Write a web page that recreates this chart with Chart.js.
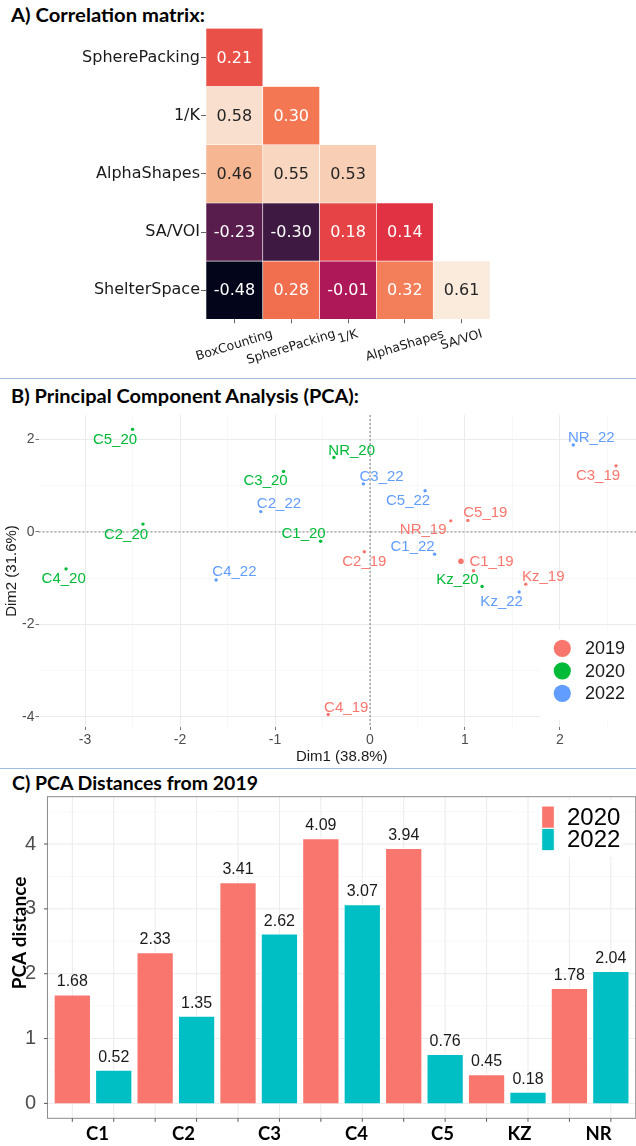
<!DOCTYPE html>
<html>
<head>
<meta charset="utf-8">
<title>Correlation matrix, PCA and PCA distances</title>
<script src="https://cdn.jsdelivr.net/npm/chart.js@4.4.1/dist/chart.umd.min.js"></script>
<style>
  html, body { margin: 0; padding: 0; background: #fff; }
  body { position: relative; width: 636px; height: 1146px; overflow: hidden; }
  .ttl { position: absolute; left: 11px; font-family: Lato, sans-serif; font-weight: bold; font-size: 19.5px;
         line-height: 20px; white-space: nowrap; transform-origin: 0 0; color: #000; }
  .sep { position: absolute; left: 0; width: 636px; height: 1px; background: #9fbbe0; }
  canvas { position: absolute; left: 0; }
</style>
</head>
<body>
<div class="ttl" style="top:4.5px" data-w="194">A) Correlation matrix:</div>
<canvas id="corr" width="636" height="376" style="top:0"></canvas>
<div class="sep" style="top:378px"></div>
<div class="ttl" style="top:385.5px" data-w="348">B) Principal Component Analysis (PCA):</div>
<canvas id="pca" width="660" height="368" style="top:400px"></canvas>
<div class="sep" style="top:768px"></div>
<div class="ttl" style="top:773px;left:12px" data-w="246">C) PCA Distances from 2019</div>
<canvas id="dist" width="660" height="376" style="top:770px"></canvas>

<script>
// ---- A) correlation matrix, lower triangle, one array per row
var corrCols = ['BoxCounting', 'SpherePacking', '1/K', 'AlphaShapes', 'SA/VOI'];
var corrRows = ['SpherePacking', '1/K', 'AlphaShapes', 'SA/VOI', 'ShelterSpace'];
var rowSpherePacking = [0.21];
var rowInvK = [0.58, 0.30];
var rowAlphaShapes = [0.46, 0.55, 0.53];
var rowSAVOI = [-0.23, -0.30, 0.18, 0.14];
var rowShelterSpace = [-0.48, 0.28, -0.01, 0.32, 0.61];

// ---- B) PCA individuals (site order as in sites)
var sites = ['C1', 'C2', 'C3', 'C4', 'C5', 'Kz', 'NR'];
var years = ['2019', '2020', '2022'];
var dim1_2019 = [1.09, -0.06, 2.59, -0.44, 1.03, 1.64, 0.85];
var dim2_2019 = [-0.84, -0.43, 1.43, -3.95, 0.25, -1.13, 0.24];
var dim1_2020 = [-0.52, -2.39, -0.91, -3.20, -2.50, 1.18, -0.38];
var dim2_2020 = [-0.20, 0.17, 1.31, -0.80, 2.22, -1.18, 1.61];
var dim1_2022 = [0.68, -1.15, -0.07, -1.62, 0.58, 1.57, 2.14];
var dim2_2022 = [-0.48, 0.44, 1.04, -1.04, 0.89, -1.30, 1.88];
var dim1Ticks = [-3, -2, -1, 0, 1, 2];
var dim2Ticks = [-4, -2, 0, 2];

// ---- C) PCA distances from 2019
var distSites = ['C1', 'C2', 'C3', 'C4', 'C5', 'KZ', 'NR'];
var dist2020 = [1.68, 2.33, 3.41, 4.09, 3.94, 0.45, 1.78];
var dist2022 = [0.52, 1.35, 2.62, 3.07, 0.76, 0.18, 2.04];
var distTicks = [0, 1, 2, 3, 4];

// label placement (px offsets of each text from its point, like ggrepel did)
var nudge2019 = [[18, -9], [0, 10], [-18, 10], [18, -7], [17.5, -8], [17.5, -7.3], [-27.6, 8.7]];
var nudge2020 = [[-17, -7.7], [-17, 10.3], [-18, 9.3], [-2.4, 10.3], [-17.5, 10.7], [-24.7, -6.7], [17.8, -7]];
var nudge2022 = [[-22, -7.7], [18.2, -7.7], [18.2, -7.3], [18.3, -7.7], [-17, 10.3], [-17.5, 9.7], [18, -7.3]];
var catNudge = [4.5, 7.5, 10.8, 14.8, 18.1, 12.2, 8.4];

var yearColors = ['#F8766D', '#00BA38', '#619CFF'];
var barColors = ['#F8766D', '#00BFC4'];

Chart.defaults.font.family = '"Liberation Sans", Arial, sans-serif';
Chart.defaults.animation = false;

function withMinors(majors, lo, hi) {
	var step = majors[1] - majors[0];
	var out = majors.slice();
	majors.forEach(function(m) { out.push(m - step / 2); });
	out.push(majors[majors.length - 1] + step / 2);
	return out.filter(function(v) { return v >= lo && v <= hi; }).sort(function(a, b) { return a - b; });
}

// seaborn "rocket" colour map
function rocketRGB(t) {
	var stops = ['#03051a', '#35193e', '#701f57', '#ad1759', '#e13342', '#f37651', '#f6b48f', '#faebdd'];
	t = Math.max(0, Math.min(1, t));
	var i = Math.min(Math.floor(t * 7), 6);
	var f = t * 7 - i;
	var a = hexRGB(stops[i]), b = hexRGB(stops[i + 1]);
	return a.map(function(c, k) { return Math.round(c + (b[k] - c) * f); });
}
function hexRGB(h) { return [1, 3, 5].map(function(i) { return parseInt(h.substr(i, 2), 16); }); }
function luminance(rgb) {
	var l = rgb.map(function(c) { c = c / 255; return c <= 0.03928 ? c / 12.92 : Math.pow((c + 0.055) / 1.055, 2.4); });
	return 0.2126 * l[0] + 0.7152 * l[1] + 0.0722 * l[2];
}

// ================= A) heatmap =================
var corrValues = [rowSpherePacking, rowInvK, rowAlphaShapes, rowSAVOI, rowShelterSpace];
var flat = [].concat.apply([], corrValues);
var vmin = Math.min.apply(null, flat), vmax = Math.max.apply(null, flat);
function cellRGB(v) { return rocketRGB((v - vmin) / (vmax - vmin)); }

var corrDatasets = corrValues.map(function(vals, r) {
	return {
		label: corrRows[r],
		data: corrCols.map(function(c, j) { return j < vals.length ? [r - 0.5, r + 0.5] : null; }),
		backgroundColor: corrCols.map(function(c, j) {
			return j < vals.length ? 'rgb(' + cellRGB(vals[j]).join(',') + ')' : 'rgba(0,0,0,0)';
		}),
		borderColor: '#ffffff',
		borderWidth: 0.6,
		borderSkipped: false,
		barPercentage: 1,
		categoryPercentage: 1,
		grouped: false
	};
});

var cellText = {
	id: 'cellText',
	afterDatasetsDraw: function(chart) {
		var ctx = chart.ctx, x = chart.scales.x, y = chart.scales.y;
		ctx.save();
		ctx.font = '16px "DejaVu Sans"';
		ctx.textAlign = 'center';
		ctx.textBaseline = 'middle';
		corrValues.forEach(function(vals, r) {
			vals.forEach(function(v, j) {
				ctx.fillStyle = luminance(cellRGB(v)) < 0.408 ? '#ffffff' : '#262626';
				ctx.fillText(v.toFixed(2), x.getPixelForValue(j), y.getPixelForValue(r) + 1);
			});
		});
		ctx.restore();
	}
};

var rotLabels = {
	id: 'rotLabels',
	afterDraw: function(chart) {
		var ctx = chart.ctx, area = chart.chartArea, x = chart.scales.x;
		var th = 17 * Math.PI / 180, fs = 12.5;
		ctx.save();
		ctx.beginPath();
		ctx.rect(0, area.bottom, area.right + 1, chart.height - area.bottom);
		ctx.clip();
		ctx.font = fs + 'px "DejaVu Sans"';
		ctx.fillStyle = '#1a1a1a';
		ctx.textAlign = 'center';
		ctx.textBaseline = 'middle';
		corrCols.forEach(function(lab, i) {
			var L = ctx.measureText(lab).width, h = fs * 1.1;
			var bh = L * Math.sin(th) + h * Math.cos(th);
			ctx.save();
			ctx.translate(x.getPixelForValue(i), area.bottom + 8 + bh / 2);
			ctx.rotate(-th);
			ctx.fillText(lab, 0, 0);
			ctx.restore();
		});
		ctx.restore();
	}
};

new Chart(document.getElementById('corr'), {
	type: 'bar',
	data: { labels: corrCols, datasets: corrDatasets },
	options: {
		responsive: false,
		devicePixelRatio: 1,
		layout: { padding: { left: 0, right: 146, top: 28.3, bottom: 36.7 } },
		plugins: { legend: { display: false }, tooltip: { enabled: false } },
		scales: {
			x: {
				type: 'category',
				offset: true,
				grid: { offset: false, drawOnChartArea: false, tickLength: 4, color: '#666' },
				border: { display: false },
				ticks: { display: false },
				afterFit: function(s) { s.height = 20; }
			},
			y: {
				type: 'linear',
				min: -0.5,
				max: 4.5,
				reverse: true,
				afterBuildTicks: function(s) { s.ticks = corrRows.map(function(_, i) { return { value: i }; }); },
				ticks: {
					autoSkip: false,
					padding: 1,
					color: '#1a1a1a',
					font: { family: '"DejaVu Sans"', size: 16 },
					callback: function(v) { return corrRows[v]; }
				},
				grid: { drawOnChartArea: false, tickLength: 5, color: '#666' },
				border: { display: false },
				afterFit: function(s) { s.width = 206; }
			}
		}
	},
	plugins: [cellText, rotLabels]
});

// ================= B) PCA =================
var dim1 = [dim1_2019, dim1_2020, dim1_2022];
var dim2 = [dim2_2019, dim2_2020, dim2_2022];
var nudges = [nudge2019, nudge2020, nudge2022];
function mean(a) { return a.reduce(function(s, v) { return s + v; }, 0) / a.length; }

var pcaDatasets = years.map(function(yr, k) {
	return {
		label: yr,
		data: sites.map(function(s, i) { return { x: dim1[k][i], y: dim2[k][i] }; }),
		backgroundColor: yearColors[k],
		borderWidth: 0,
		pointRadius: 1.7
	};
});
// group mean point of 2019
pcaDatasets.push({
	label: 'mean2019',
	data: [{ x: mean(dim1_2019), y: mean(dim2_2019) }],
	backgroundColor: yearColors[0],
	borderWidth: 0,
	pointRadius: 2.8
});

var xMinB = -3.49, xMaxB = 2.895, yMinB = -4.22, yMaxB = 2.53;

var pcaDecor = {
	id: 'pcaDecor',
	beforeDatasetsDraw: function(chart) {
		var ctx = chart.ctx, a = chart.chartArea;
		var px = chart.scales.x.getPixelForValue(0), py = chart.scales.y.getPixelForValue(0);
		ctx.save();
		ctx.strokeStyle = '#8a8a8a';
		ctx.lineWidth = 1.1;
		ctx.setLineDash([2, 2]);
		ctx.beginPath();
		ctx.moveTo(px, a.top); ctx.lineTo(px, a.bottom);
		ctx.moveTo(a.left, py); ctx.lineTo(a.right, py);
		ctx.stroke();
		ctx.restore();
	},
	afterDatasetsDraw: function(chart) {
		var ctx = chart.ctx;
		ctx.save();
		ctx.font = '15px "Liberation Sans"';
		ctx.textAlign = 'center';
		ctx.textBaseline = 'middle';
		years.forEach(function(yr, k) {
			var meta = chart.getDatasetMeta(k);
			ctx.fillStyle = yearColors[k];
			sites.forEach(function(s, i) {
				var el = meta.data[i];
				ctx.fillText(s + '_' + yr.slice(2), el.x + nudges[k][i][0], el.y + nudges[k][i][1]);
			});
		});
		ctx.restore();
	},
	afterDraw: function(chart) {
		var ctx = chart.ctx;
		ctx.save();
		ctx.fillStyle = '#ffffff';
		ctx.fillRect(540, 230, 120, 90);
		ctx.font = '18px "Liberation Sans"';
		ctx.textAlign = 'left';
		ctx.textBaseline = 'middle';
		years.forEach(function(yr, k) {
			var cy = 248.3 + k * 22.5;
			ctx.beginPath();
			ctx.arc(562.3, cy, 8.6, 0, 2 * Math.PI);
			ctx.fillStyle = yearColors[k];
			ctx.fill();
			ctx.fillStyle = '#1a1a1a';
			ctx.fillText(yr, 585, cy + 1);
		});
		ctx.restore();
	}
};

function gridOpts(majors) {
	function isMajor(c) { return c.tick && majors.indexOf(c.tick.value) >= 0; }
	return {
		color: function(c) { return isMajor(c) ? '#ebebeb' : '#f3f3f3'; },
		lineWidth: function(c) { return isMajor(c) ? 1 : 0.6; },
		tickLength: 3,
		tickColor: function(c) { return isMajor(c) ? '#777' : 'rgba(0,0,0,0)'; }
	};
}

new Chart(document.getElementById('pca'), {
	type: 'scatter',
	data: { datasets: pcaDatasets },
	options: {
		responsive: false,
		devicePixelRatio: 1,
		layout: { padding: { left: 0, right: 15, top: 15, bottom: 0 } },
		plugins: { legend: { display: false }, tooltip: { enabled: false } },
		scales: {
			x: {
				type: 'linear',
				min: xMinB,
				max: xMaxB,
				afterBuildTicks: function(s) {
					s.ticks = withMinors(dim1Ticks, xMinB, xMaxB).map(function(v) { return { value: v }; });
				},
				ticks: {
					autoSkip: false, maxRotation: 0, padding: 2, color: '#4d4d4d',
					font: { size: 14 },
					callback: function(v) { return dim1Ticks.indexOf(v) >= 0 ? String(v) : ''; }
				},
				grid: gridOpts(dim1Ticks),
				border: { display: false },
				title: { display: true, text: 'Dim1 (38.8%)', color: '#1a1a1a', font: { size: 15 }, padding: { top: 0, bottom: 2 } },
				afterFit: function(s) { s.height = 41; }
			},
			y: {
				type: 'linear',
				min: yMinB,
				max: yMaxB,
				afterBuildTicks: function(s) {
					s.ticks = withMinors(dim2Ticks, yMinB, yMaxB).map(function(v) { return { value: v }; });
				},
				ticks: {
					autoSkip: false, padding: 1, color: '#4d4d4d',
					font: { size: 14 },
					callback: function(v) { return dim2Ticks.indexOf(v) >= 0 ? String(v) : ''; }
				},
				grid: gridOpts(dim2Ticks),
				border: { display: false },
				title: { display: true, text: 'Dim2 (31.6%)', color: '#1a1a1a', font: { size: 15 }, padding: { top: 3, bottom: 0 } },
				afterFit: function(s) { s.width = 38.5; }
			}
		}
	},
	plugins: [pcaDecor]
});

// ================= C) PCA distances =================
var yMinC = -0.23, yMaxC = 4.73;

function hline(ctx, x1, y1, x2, y2) { ctx.beginPath(); ctx.moveTo(x1, y1); ctx.lineTo(x2, y2); ctx.stroke(); }

function panelBox(chart) {
	var m0 = chart.getDatasetMeta(0).data, m1 = chart.getDatasetMeta(1).data;
	var pitch = m1[0].x - m0[0].x;
	var a = chart.chartArea;
	return { L: a.left - 0.1 * pitch, R: a.right + 0.1 * pitch, T: a.top, B: a.bottom };
}

var distDecor = {
	id: 'distDecor',
	beforeDatasetsDraw: function(chart) {
		var ctx = chart.ctx, y = chart.scales.y, p = panelBox(chart);
		ctx.save();
		withMinors(distTicks, yMinC, yMaxC).forEach(function(v) {
			var major = distTicks.indexOf(v) >= 0;
			ctx.strokeStyle = major ? '#ebebeb' : '#f4f4f4';
			ctx.lineWidth = major ? 1 : 0.6;
			var py = y.getPixelForValue(v);
			hline(ctx, p.L, py, p.R, py);
		});
		ctx.strokeStyle = '#ebebeb';
		ctx.lineWidth = 1;
		chart.data.datasets.forEach(function(d, i) {
			chart.getDatasetMeta(i).data.forEach(function(el) { hline(ctx, el.x, p.T, el.x, p.B); });
		});
		ctx.restore();
	},
	afterDatasetsDraw: function(chart) {
		var ctx = chart.ctx;
		ctx.save();
		ctx.font = '16px "Liberation Sans"';
		ctx.fillStyle = '#1a1a1a';
		ctx.textAlign = 'center';
		ctx.textBaseline = 'middle';
		chart.data.datasets.forEach(function(d, i) {
			chart.getDatasetMeta(i).data.forEach(function(el, j) {
				ctx.fillText(d.data[j].toFixed(2), el.x, el.y - 12.4);
			});
		});
		ctx.restore();
	},
	afterDraw: function(chart) {
		var ctx = chart.ctx, x = chart.scales.x, y = chart.scales.y, p = panelBox(chart);
		ctx.save();
		// panel border and tick marks
		ctx.strokeStyle = '#8c8c8c';
		ctx.lineWidth = 1;
		ctx.strokeRect(p.L, p.T, p.R - p.L, p.B - p.T);
		ctx.strokeStyle = '#555';
		distTicks.forEach(function(v) { var py = y.getPixelForValue(v); hline(ctx, p.L - 3.5, py, p.L, py); });
		chart.data.datasets.forEach(function(d, i) {
			chart.getDatasetMeta(i).data.forEach(function(el) { hline(ctx, el.x, p.B, el.x, p.B + 3.5); });
		});
		// category labels
		ctx.font = 'bold 18.5px Lato';
		ctx.fillStyle = '#000';
		ctx.textAlign = 'center';
		ctx.textBaseline = 'middle';
		distSites.forEach(function(s, i) { ctx.fillText(s, x.getPixelForValue(i) + catNudge[i], p.B + 15.5); });
		// y title
		ctx.save();
		ctx.translate(20, 163);
		ctx.rotate(-Math.PI / 2);
		ctx.font = 'bold 19px Lato';
		ctx.fillText('PCA distance', 0, 0);
		ctx.restore();
		// legend
		ctx.fillStyle = '#ffffff';
		ctx.fillRect(538, 30, 84, 57);
		['2020', '2022'].forEach(function(lab, k) {
			var top = 36 + k * 22.35;
			ctx.fillStyle = barColors[k];
			ctx.fillRect(541.7, top, 12.6, 22.35);
			ctx.strokeStyle = '#ffffff';
			ctx.strokeRect(541.7, top, 12.6, 22.35);
			ctx.fillStyle = '#000';
			ctx.font = '24px "Liberation Sans"';
			ctx.textAlign = 'left';
			ctx.fillText(lab, 567, top + 12.3);
		});
		ctx.restore();
	}
};

new Chart(document.getElementById('dist'), {
	type: 'bar',
	data: {
		labels: distSites,
		datasets: [
			{ label: '2020', data: dist2020, backgroundColor: barColors[0], borderColor: '#ffffff', borderWidth: 1 },
			{ label: '2022', data: dist2022, backgroundColor: barColors[1], borderColor: '#ffffff', borderWidth: 1 }
		]
	},
	options: {
		responsive: false,
		devicePixelRatio: 1,
		barPercentage: 0.9,
		categoryPercentage: 1,
		layout: { padding: { left: 0, right: 28.45, top: 26.7, bottom: 0 } },
		plugins: { legend: { display: false }, tooltip: { enabled: false } },
		scales: {
			x: {
				type: 'category',
				grid: { display: false },
				border: { display: false },
				ticks: { display: false },
				afterFit: function(s) { s.height = 27.7; }
			},
			y: {
				type: 'linear',
				min: yMinC,
				max: yMaxC,
				afterBuildTicks: function(s) { s.ticks = distTicks.map(function(v) { return { value: v }; }); },
				ticks: { padding: 7.5, color: '#4d4d4d', font: { size: 20 } },
				grid: { display: false },
				border: { display: false },
				afterFit: function(s) { s.width = 51.6; }
			}
		}
	},
	plugins: [distDecor]
});

// squeeze the panel titles to the width they have in the figure
function fitTitles() {
	var els = document.querySelectorAll('.ttl');
	for (var i = 0; i < els.length; i++) {
		els[i].style.transform = 'none';
		var w = els[i].getBoundingClientRect().width;
		els[i].style.transform = 'scaleX(' + (els[i].getAttribute('data-w') / w) + ')';
	}
}
fitTitles();
if (document.fonts && document.fonts.ready) document.fonts.ready.then(fitTitles);
</script>
</body>
</html>
